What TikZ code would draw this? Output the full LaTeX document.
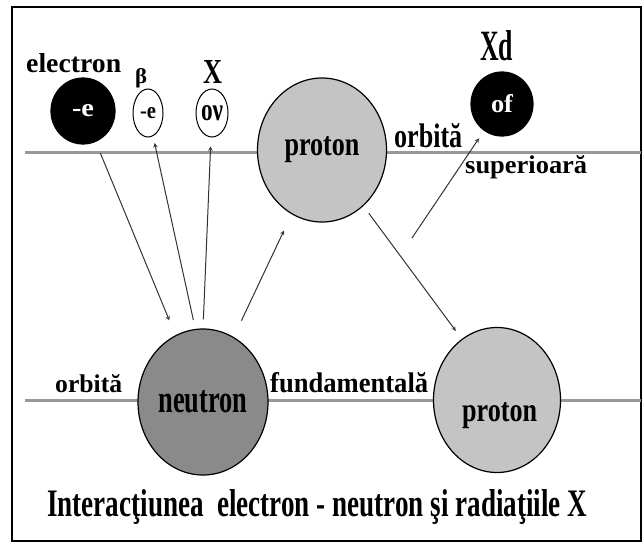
\documentclass[tikz,border=0pt]{standalone}
\usepackage{fontspec}
\setmainfont{Liberation Serif}
\usetikzlibrary{shapes.geometric}
\newcommand{\squash}[3]{\resizebox{#1pt}{#2pt}{\bfseries #3}}
\tikzset{
  lbl/.style={inner sep=0pt, anchor=base west},
  orbit/.style={draw=black!40, line width=3pt},
  part/.style={ellipse, draw, line width=1.2pt, inner sep=0pt},
  ray/.style={->, line width=1pt, draw=black!80},
}

\begin{document}
\begin{tikzpicture}[x=1pt,y=-1pt,>=stealth]
\useasboundingbox (0,0) rectangle (644,546);
\draw[line width=2pt] (12,7) rectangle (641,541);

% orbits
\draw[orbit] (25,152) -- (641,152);
\draw[orbit] (25,400) -- (641,400);

% particles
\node[part,fill=black,text=white,minimum width=64pt,minimum height=66pt] (electron) at (83,111) {\squash{22}{12}{-e}};
\node[part,fill=white,line width=1pt,minimum width=30pt,minimum height=48pt] (beta) at (148,113) {\squash{16}{11}{-e}};
\node[part,fill=white,line width=1pt,minimum width=32pt,minimum height=48pt] (xray) at (212,113) {\squash{22}{15}{oν}};
\node[part,fill=black,text=white,minimum width=62pt,minimum height=64pt] (xd) at (502,104) {\squash{22}{18}{of}};
\node[part,fill=black!23,minimum width=129pt,minimum height=144pt] (protonA) at (322,150) {\squash{75}{19}{proton}};
\node[part,fill=black!46,minimum width=130pt,minimum height=146pt] (neutron) at (203,402) {\squash{89}{22}{neutron}};
\node[part,fill=black!23,minimum width=127pt,minimum height=145pt] (protonB) at (497,400) {};

% labels
\node[lbl] (telectron) at (26,72) {\squash{95}{19}{electron}};
\node[lbl] (tbeta) at (135,83) {\squash{12}{15}{β}};
\node[lbl] (tx) at (203,83) {\squash{19}{23}{X}};
\node[lbl] (txd) at (480,60) {\squash{33}{30}{Xd}};
\node[lbl] (torbitup) at (394,147) {\squash{68}{24}{orbită}};
\node[lbl] (tsuperior) at (465,173) {\squash{122}{18}{superioară}};
\node[lbl] (torbitlow) at (55,392) {\squash{67}{18}{orbită}};
\node[lbl] (tfundam) at (270,392) {\squash{158}{20}{fundamentală}};
\node[lbl] (tprotonB) at (462,421) {\squash{75}{19}{proton}};
\node[lbl] (caption) at (47,516) {\squash{540}{27}{Interacţiunea\ \ electron - neutron şi radiaţiile X}};

% rays
\coordinate (emit) at (412,238);
\draw[ray,shorten <=12pt,shorten >=16pt] (electron) -- (neutron);
\draw[ray,shorten <=9pt,shorten >=7pt] (neutron.96) -- (beta);
\draw[ray,shorten <=9pt,shorten >=9pt] (neutron.90) -- (xray);
\draw[ray,shorten <=18pt,shorten >=18pt] (neutron) -- (protonA);
\draw[ray,shorten <=9pt,shorten >=10pt] (protonA) -- (protonB.120);
\draw[ray,shorten >=9pt] (emit) -- (xd);
\end{tikzpicture}
\end{document}
